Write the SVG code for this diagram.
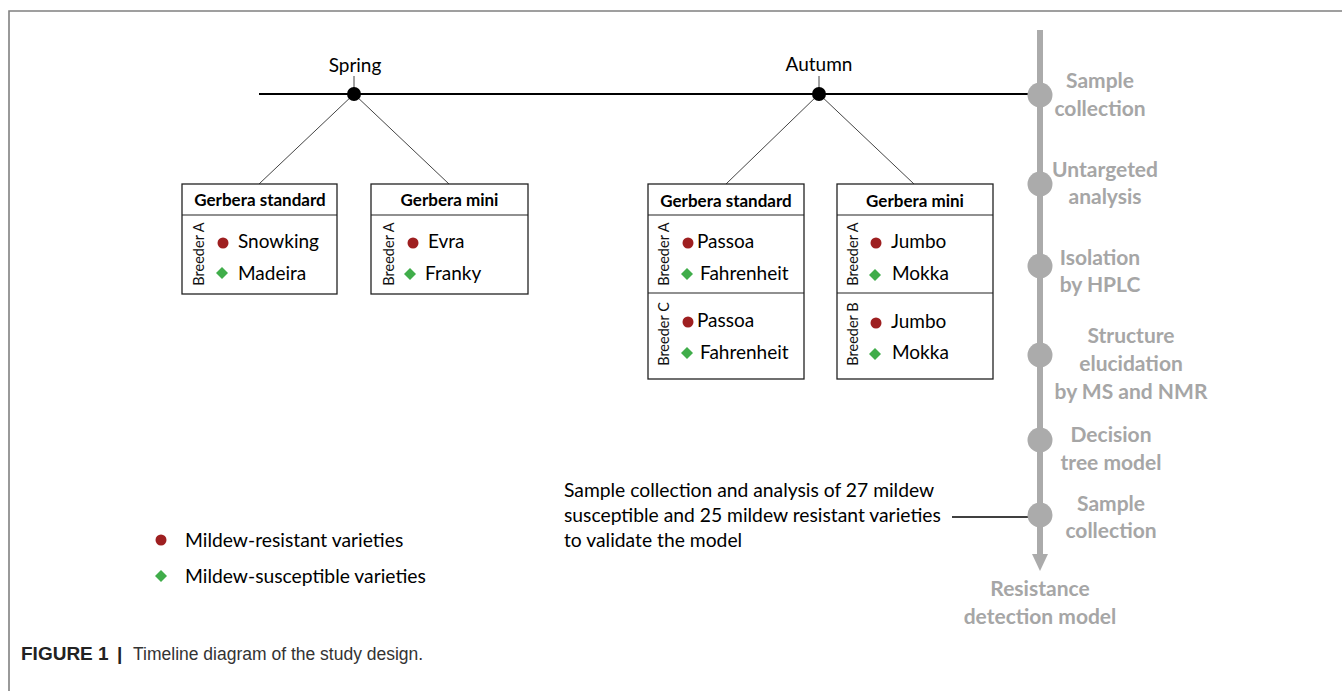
<svg xmlns="http://www.w3.org/2000/svg" width="1342" height="691" viewBox="0 0 1342 691">
<style>
.frame{stroke:#808080;stroke-width:1.6;fill:none}
.tl{stroke:#000;stroke-width:2;fill:none}
.br{stroke:#444;stroke-width:1;fill:none}
.box{fill:#fff;stroke:#222;stroke-width:1.3}
.div{stroke:#222;stroke-width:1.1}
.hd{font-family:Lato,"Open Sans",sans-serif;font-weight:bold;font-size:17px;fill:#000;text-anchor:middle}
.it{font-family:Lato,"Open Sans",sans-serif;font-size:19px;fill:#000}
.br-t{font-family:Lato,"Open Sans",sans-serif;font-size:14.5px;fill:#111;text-anchor:middle}
.season{font-family:Lato,"Open Sans",sans-serif;font-size:19px;fill:#000;text-anchor:middle}
.g{font-family:Lato,"Open Sans",sans-serif;font-weight:bold;font-size:21px;fill:#a6a6a6;text-anchor:middle}
.res{fill:#9e1f20}
.sus{fill:#40ad4a}
.gc{fill:#ababab}
.body{font-family:Lato,"Open Sans",sans-serif;font-size:19.3px;fill:#000}
.cap{font-family:"Liberation Sans",Arial,sans-serif;font-size:17.5px;fill:#333}
.capb{font-family:"Liberation Sans",Arial,sans-serif;font-size:19px;font-weight:bold;fill:#222}
</style>
<defs>
<path id="dia" d="M0,-6 L6,0 L0,6 L-6,0 Z"/>
</defs>

<g id="frame">
<path class="frame" d="M9,691 V11 H1342"/>
</g>

<g id="connectors">
<line class="tl" x1="259" y1="94" x2="1030" y2="94"/>
<line class="br" x1="354" y1="76" x2="354" y2="94"/>
<line class="br" x1="819" y1="76" x2="819" y2="94"/>
<line class="br" x1="354" y1="94" x2="259" y2="184"/>
<line class="br" x1="354" y1="94" x2="449" y2="184"/>
<line class="br" x1="819" y1="94" x2="726" y2="184"/>
<line class="br" x1="819" y1="94" x2="914" y2="184"/>
<line x1="952" y1="517" x2="1030" y2="517" stroke="#000" stroke-width="1.5"/>
<line x1="1040" y1="30" x2="1040" y2="556" stroke="#ababab" stroke-width="6"/>
<path class="gc" d="M1032,554 L1048,554 L1040,571 Z"/>
</g>

<g id="spring">
<text class="season" x="355" y="72">Spring</text>
<circle cx="354" cy="94" r="7" fill="#000"/>
</g>
<g id="autumn">
<text class="season" x="819" y="71">Autumn</text>
<circle cx="819" cy="94" r="7" fill="#000"/>
</g>

<g id="box-spring-standard">
<rect class="box" x="182" y="184" width="155" height="110"/>
<line class="div" x1="182" y1="215" x2="337" y2="215"/>
<text class="hd" x="260" y="206">Gerbera standard</text>
<text class="br-t" transform="translate(204,254) rotate(-90)">Breeder A</text>
<circle class="res" cx="223" cy="243" r="5.5"/>
<text class="it" x="238" y="248">Snowking</text>
<use href="#dia" class="sus" x="222" y="273"/>
<text class="it" x="238" y="280">Madeira</text>
</g>

<g id="box-spring-mini">
<rect class="box" x="371" y="184" width="157" height="110"/>
<line class="div" x1="371" y1="215" x2="528" y2="215"/>
<text class="hd" x="449.5" y="206">Gerbera mini</text>
<text class="br-t" transform="translate(394,254) rotate(-90)">Breeder A</text>
<circle class="res" cx="413" cy="243" r="5.5"/>
<text class="it" x="428" y="248">Evra</text>
<use href="#dia" class="sus" x="410" y="274"/>
<text class="it" x="425" y="280">Franky</text>
</g>

<g id="box-autumn-standard">
<rect class="box" x="648" y="184" width="156" height="195"/>
<line class="div" x1="648" y1="215" x2="804" y2="215"/>
<line class="div" x1="648" y1="293" x2="804" y2="293"/>
<text class="hd" x="726" y="207">Gerbera standard</text>
<text class="br-t" transform="translate(669,254) rotate(-90)">Breeder A</text>
<circle class="res" cx="688" cy="243" r="5.5"/>
<text class="it" x="697" y="248">Passoa</text>
<use href="#dia" class="sus" x="687" y="274"/>
<text class="it" x="700" y="280">Fahrenheit</text>
<text class="br-t" transform="translate(669,334) rotate(-90)">Breeder C</text>
<circle class="res" cx="688" cy="322" r="5.5"/>
<text class="it" x="697" y="327">Passoa</text>
<use href="#dia" class="sus" x="687" y="353"/>
<text class="it" x="700" y="359">Fahrenheit</text>
</g>

<g id="box-autumn-mini">
<rect class="box" x="837" y="184" width="156" height="195"/>
<line class="div" x1="837" y1="215" x2="993" y2="215"/>
<line class="div" x1="837" y1="293" x2="993" y2="293"/>
<text class="hd" x="915" y="207">Gerbera mini</text>
<text class="br-t" transform="translate(858,254) rotate(-90)">Breeder A</text>
<circle class="res" cx="876" cy="243" r="5.5"/>
<text class="it" x="891" y="248">Jumbo</text>
<use href="#dia" class="sus" x="875" y="275"/>
<text class="it" x="892" y="280">Mokka</text>
<text class="br-t" transform="translate(858,334) rotate(-90)">Breeder B</text>
<circle class="res" cx="876" cy="323" r="5.5"/>
<text class="it" x="891" y="328">Jumbo</text>
<use href="#dia" class="sus" x="875" y="354"/>
<text class="it" x="892" y="359">Mokka</text>
</g>

<g id="step1">
<circle class="gc" cx="1040" cy="95" r="12.5"/>
<text class="g" x="1100" y="88">Sample</text>
<text class="g" x="1100" y="116">collection</text>
</g>
<g id="step2">
<circle class="gc" cx="1040" cy="184" r="12.5"/>
<text class="g" x="1105" y="177">Untargeted</text>
<text class="g" x="1105" y="204">analysis</text>
</g>
<g id="step3">
<circle class="gc" cx="1040" cy="266" r="12.5"/>
<text class="g" x="1100" y="265">Isolation</text>
<text class="g" x="1100" y="292">by HPLC</text>
</g>
<g id="step4">
<circle class="gc" cx="1040" cy="355" r="12.5"/>
<text class="g" x="1131" y="343">Structure</text>
<text class="g" x="1131" y="371">elucidation</text>
<text class="g" x="1131" y="399">by MS and NMR</text>
</g>
<g id="step5">
<circle class="gc" cx="1040" cy="440" r="12.5"/>
<text class="g" x="1111" y="442">Decision</text>
<text class="g" x="1111" y="470">tree model</text>
</g>
<g id="step6">
<circle class="gc" cx="1040" cy="515" r="12.5"/>
<text class="g" x="1111" y="511">Sample</text>
<text class="g" x="1111" y="538">collection</text>
</g>
<g id="step7">
<text class="g" x="1040" y="596">Resistance</text>
<text class="g" x="1040" y="624">detection model</text>
</g>

<g id="validation-note">
<text class="body" x="564" y="497">Sample collection and analysis of 27 mildew</text>
<text class="body" x="564" y="522">susceptible and 25 mildew resistant varieties</text>
<text class="body" x="564" y="547">to validate the model</text>
</g>

<g id="legend">
<circle class="res" cx="161" cy="540" r="5.5"/>
<text class="body" x="185" y="547">Mildew-resistant varieties</text>
<use href="#dia" class="sus" x="161" y="576"/>
<text class="body" x="185" y="583">Mildew-susceptible varieties</text>
</g>

<g id="caption">
<text class="capb" x="21" y="660">FIGURE 1</text>
<text class="capb" x="117" y="660">|</text>
<text class="cap" x="133" y="660">Timeline diagram of the study design.</text>
</g>
</svg>
